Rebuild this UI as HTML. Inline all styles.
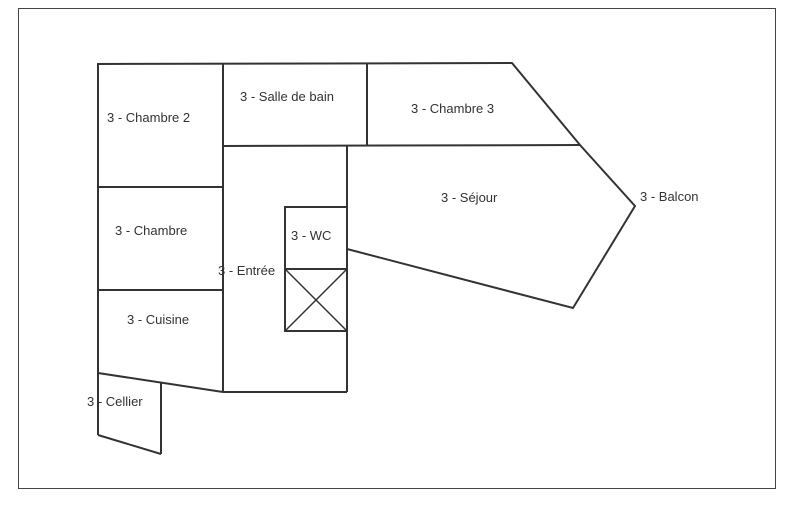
<!DOCTYPE html>
<html><head><style>
html,body{margin:0;padding:0;background:#fff;}
svg{display:block}
text{font-family:"Liberation Sans",sans-serif;font-size:13px;fill:#333;}
</style></head><body>
<svg width="800" height="521" viewBox="0 0 800 521">
<rect x="18.5" y="8.5" width="757" height="480" fill="none" stroke="#444" stroke-width="1"/>
<g fill="none" stroke="#333" stroke-width="2" stroke-linejoin="miter">
<polyline points="98,435 98,64 512,63 580,145 635,206 573,308 347,249"/>
<line x1="223" y1="64" x2="223" y2="392"/>
<line x1="367" y1="64" x2="367" y2="146"/>
<line x1="223" y1="146" x2="580" y2="145"/>
<line x1="347" y1="146" x2="347" y2="392"/>
<line x1="223" y1="392" x2="347" y2="392"/>
<line x1="98" y1="187" x2="223" y2="187"/>
<line x1="98" y1="290" x2="223" y2="290"/>
<line x1="98" y1="373" x2="223" y2="392"/>
<line x1="161" y1="383" x2="161" y2="454"/>
<line x1="98" y1="435" x2="161" y2="454"/>
<rect x="285" y="207" width="62" height="124"/>
<line x1="285" y1="269" x2="347" y2="269"/>
<line x1="285" y1="269" x2="347" y2="331" stroke-width="1.5"/>
<line x1="347" y1="269" x2="285" y2="331" stroke-width="1.5"/>
</g>
<text x="107" y="122">3 - Chambre 2</text>
<text x="240" y="101">3 - Salle de bain</text>
<text x="411" y="113">3 - Chambre 3</text>
<text x="441" y="202">3 - Séjour</text>
<text x="640" y="201">3 - Balcon</text>
<text x="115" y="235">3 - Chambre</text>
<text x="291" y="240">3 - WC</text>
<text x="218" y="275">3 - Entrée</text>
<text x="127" y="324">3 - Cuisine</text>
<text x="87" y="406">3 - Cellier</text>
</svg>
</body></html>
